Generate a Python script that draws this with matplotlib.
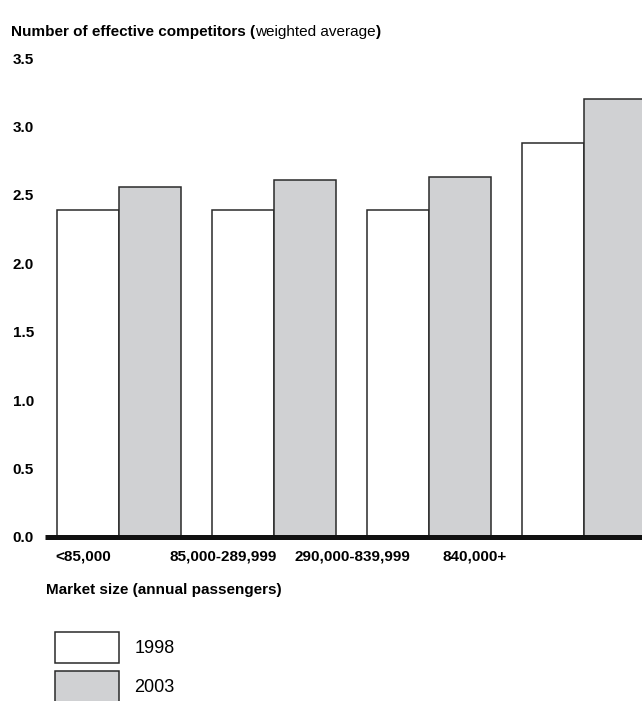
import matplotlib
matplotlib.use("Agg")
import numpy as np
import matplotlib.pyplot as plt
import matplotlib.transforms as mtransforms
from matplotlib.patches import Patch

# Data
categories = ["<85,000", "85,000-289,999", "290,000-839,999", "840,000+"]
years = ["1998", "2003"]
values_1998 = [2.39, 2.39, 2.39, 2.88]
values_2003 = [2.56, 2.61, 2.63, 3.20]
y_ticks = [0.0, 0.5, 1.0, 1.5, 2.0, 2.5, 3.0, 3.5]

plt.rcParams["font.family"] = ["Liberation Sans", "DejaVu Sans"]

FS = 11
LEG_FS = 13
EDGE = "#2a2a2a"
GREY = "#d0d1d3"

fig = plt.figure(figsize=(6.42, 7.01), dpi=100)
ax = fig.add_axes([45 / 642, 164 / 701, 1 - 45 / 642, 479 / 701])

x = np.arange(len(categories))
w = 0.4
ax.bar(x - w / 2, values_1998, w, color="white", edgecolor=EDGE, linewidth=1.1, label=years[0])
ax.bar(x + w / 2, values_2003, w, color=GREY, edgecolor=EDGE, linewidth=1.1, label=years[1])

ax.set_xlim(-0.477, 3.374)
ax.set_ylim(0, 3.5)
for s in ["left", "right", "top"]:
    ax.spines[s].set_visible(False)
ax.spines["bottom"].set_linewidth(3.6)
ax.spines["bottom"].set_color("#111111")
ax.spines["bottom"].set_capstyle("butt")

ax.set_yticks(y_ticks)
ax.set_yticklabels([f"{v:.1f}" for v in y_ticks], fontsize=FS, fontweight="bold")
ax.tick_params(axis="y", length=0, pad=8)
ax.set_xticks([])

# category labels sit a little left of their groups, as in the original
label_left = [-0.413, 0.329, 1.135, 2.084]
trans = mtransforms.blended_transform_factory(ax.transData, ax.transAxes)
for lx, lab in zip(label_left, categories):
    ax.text(lx, -0.040, lab, transform=trans, ha="left", va="center",
            fontsize=FS, fontweight="bold")

fig.text(46 / 642, 1 - 590 / 701, "Market size (annual passengers)", ha="left",
         va="center", fontsize=FS, fontweight="bold")

# title: bold with a regular part in the middle
t1 = fig.text(11 / 642, 1 - 32 / 701, "Number of effective competitors (", ha="left",
              va="center", fontsize=FS, fontweight="bold")
t2 = ax.annotate("weighted average", xy=(1, 0), xycoords=t1, ha="left", va="bottom",
                 fontsize=FS, annotation_clip=False)
ax.annotate(")", xy=(1, 0), xycoords=t2, ha="left", va="bottom",
            fontsize=FS, fontweight="bold", annotation_clip=False)

handles = [Patch(facecolor="white", edgecolor=EDGE, linewidth=1.1),
           Patch(facecolor=GREY, edgecolor=EDGE, linewidth=1.1)]
fig.legend(handles, years, loc="upper left", bbox_to_anchor=(55 / 642, 1 - 632 / 701),
           frameon=False, fontsize=LEG_FS, handlelength=3.54, handleheight=2.26,
           labelspacing=0.44, handletextpad=0.85, borderpad=0, borderaxespad=0)

fig.savefig("out.png", dpi=100)
